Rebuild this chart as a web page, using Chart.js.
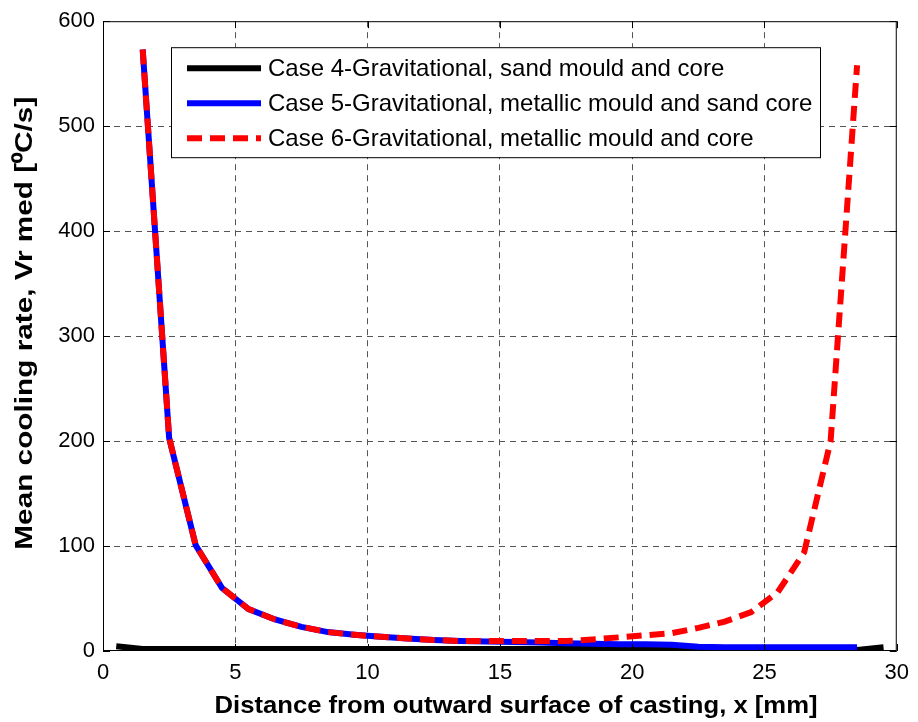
<!DOCTYPE html>
<html>
<head>
<meta charset="utf-8">
<script src="https://cdn.jsdelivr.net/npm/chart.js@4.4.1/dist/chart.umd.min.js"></script>
<style>
body { margin: 0; background: #fff; }
</style>
</head>
<body>
<canvas id="coolingChart" width="918" height="722"></canvas>
<script>
// series names as in the legend
const seriesLabels = [
    'Case 4-Gravitational, sand mould and core',
    'Case 5-Gravitational, metallic mould and sand core',
    'Case 6-Gravitational, metallic mould and core'
];
const xTitle = 'Distance from outward surface of casting, x [mm]';
const yTitle = 'Mean cooling rate, Vr med [\u2070C/s]';

// distance from outward surface [mm]
const xCase4 = [0.5, 1.5, 2.5, 3.5, 4.5, 5.5, 6.5, 7.5, 8.5, 9.5, 10.5, 11.5, 12.5, 13.5, 14.5,
    15.5, 16.5, 17.5, 18.5, 19.5, 20.5, 21.5, 22.5, 23.5, 24.5, 25.5, 26.5, 27.5, 28.5, 29.5];
const xCase56 = [1.5, 2.5, 3.5, 4.5, 5.5, 6.5, 7.5, 8.5, 9.5, 10.5, 11.5, 12.5, 13.5, 14.5,
    15.5, 16.5, 17.5, 18.5, 19.5, 20.5, 21.5, 22.5, 23.5, 24.5, 25.5, 26.5, 27.5, 28.5];

// mean cooling rate [0C/s]
const case4Rate = [4.5, 2, 2, 2, 2, 2, 2, 2, 2, 2, 2, 2, 2, 2, 2,
    2, 2, 2, 2, 2, 2, 2, 1.5, 1, 1, 1, 1, 1, 1, 3.5];
const case5Rate = [573, 203, 101, 60, 40, 30, 23, 18, 15.5, 13.5, 12, 10.5, 9.5, 9,
    8.5, 8, 7.5, 7, 6.5, 6.5, 6, 4, 3.5, 3.5, 3.5, 3.5, 3.5, 3.5];
const case6Rate = [573, 203, 101, 60, 40, 30, 23, 18, 15.5, 13.5, 12, 10.5, 9.5, 9.5,
    9.5, 9.5, 9.5, 11, 13, 15, 17, 22, 28, 37, 56, 94, 200, 558];

// axis ticks
const xTickValues = [0, 5, 10, 15, 20, 25, 30];
const yTickValues = [0, 100, 200, 300, 400, 500, 600];

function toPoints(xs, ys) {
    return xs.map((x, i) => ({ x: x, y: ys[i] }));
}

const FONT = "'Liberation Sans', Arial, sans-serif";

// draws text stretched along its direction so it fills the given length (the matlab export is wide)
function stretchedText(ctx, text, cx, cy, angle, length) {
    const w = ctx.measureText(text).width;
    ctx.save();
    ctx.translate(cx, cy);
    ctx.rotate(angle);
    ctx.scale(length / w, 1);
    ctx.textAlign = 'center';
    ctx.textBaseline = 'middle';
    ctx.fillText(text, 0, 0);
    ctx.restore();
}

// matlab style box with inward ticks, axis titles and the legend inside the axes
const boxAndLegend = {
    id: 'boxAndLegend',
    afterDraw(chart) {
        const ctx = chart.ctx;
        const a = chart.chartArea;
        const xs = chart.scales.x, ys = chart.scales.y;
        ctx.save();
        ctx.strokeStyle = '#000';
        ctx.lineWidth = 1;
        ctx.setLineDash([]);
        ctx.strokeRect(a.left + 0.5, a.top + 0.5, a.width - 1, a.height - 1);
        ctx.beginPath();
        xTickValues.forEach(v => {
            const px = Math.round(xs.getPixelForValue(v)) + 0.5;
            ctx.moveTo(px, a.bottom); ctx.lineTo(px, a.bottom - 7);
            ctx.moveTo(px, a.top); ctx.lineTo(px, a.top + 7);
        });
        yTickValues.forEach(v => {
            const py = Math.round(ys.getPixelForValue(v)) + 0.5;
            ctx.moveTo(a.left, py); ctx.lineTo(a.left + 7, py);
            ctx.moveTo(a.right, py); ctx.lineTo(a.right - 7, py);
        });
        ctx.stroke();

        // axis titles
        ctx.fillStyle = '#000';
        ctx.font = 'bold 24px ' + FONT;
        stretchedText(ctx, xTitle, a.left + 413, chart.height - 16, 0, 603);
        stretchedText(ctx, yTitle, 25, a.top + 302, -Math.PI / 2, 453);

        // legend
        const lx = a.left + 68, ly = a.top + 26, lw = 649, lh = 110;
        ctx.fillStyle = '#fff';
        ctx.fillRect(lx, ly, lw, lh);
        ctx.strokeRect(lx + 0.5, ly + 0.5, lw, lh);
        ctx.font = '24px ' + FONT;
        ctx.textBaseline = 'middle';
        chart.data.datasets.forEach((ds, i) => {
            const cy = ly + 21 + i * 35;
            ctx.beginPath();
            ctx.strokeStyle = ds.borderColor;
            ctx.lineWidth = ds.borderWidth;
            ctx.setLineDash(ds.borderDash || []);
            ctx.moveTo(lx + 16, cy);
            ctx.lineTo(lx + 90, cy);
            ctx.stroke();
            ctx.fillStyle = '#000';
            ctx.fillText(ds.label, lx + 97, cy + 1);
        });
        ctx.restore();
    }
};

function gridColor(min, max) {
    return c => (c.tick && (c.tick.value === min || c.tick.value === max)) ? 'rgba(0,0,0,0)' : '#555';
}

new Chart(document.getElementById('coolingChart'), {
    type: 'line',
    data: {
        datasets: [{
            label: seriesLabels[0],
            data: toPoints(xCase4, case4Rate),
            borderColor: '#000000',
            borderWidth: 6,
            order: 2
        }, {
            label: seriesLabels[1],
            data: toPoints(xCase56, case5Rate),
            borderColor: '#0000ff',
            borderWidth: 6,
            order: 1
        }, {
            label: seriesLabels[2],
            data: toPoints(xCase56, case6Rate),
            borderColor: '#ff0000',
            borderWidth: 6,
            borderDash: [15, 8],
            order: 0
        }]
    },
    options: {
        responsive: false,
        animation: false,
        layout: { padding: { top: 19, right: 15, left: 0, bottom: 0 } },
        elements: {
            line: { tension: 0, fill: false },
            point: { radius: 0 }
        },
        plugins: {
            legend: { display: false },
            tooltip: { enabled: false }
        },
        scales: {
            x: {
                type: 'linear',
                min: 0,
                max: 30,
                afterBuildTicks: s => { s.ticks = xTickValues.map(v => ({ value: v })); },
                afterFit: s => { s.height = 71; },
                grid: { color: gridColor(0, 30), drawTicks: false, lineWidth: 1 },
                border: { display: false, dash: [6, 5] },
                ticks: { color: '#000', font: { family: FONT, size: 22 }, padding: 9, maxRotation: 0 }
            },
            y: {
                min: 0,
                max: 600,
                afterBuildTicks: s => { s.ticks = yTickValues.map(v => ({ value: v })); },
                afterFit: s => { s.width = 103; },
                grid: { color: gridColor(0, 600), drawTicks: false, lineWidth: 1 },
                border: { display: false, dash: [6, 5] },
                ticks: { color: '#000', font: { family: FONT, size: 22 }, padding: 8 }
            }
        }
    },
    plugins: [boxAndLegend]
});
</script>
</body>
</html>
